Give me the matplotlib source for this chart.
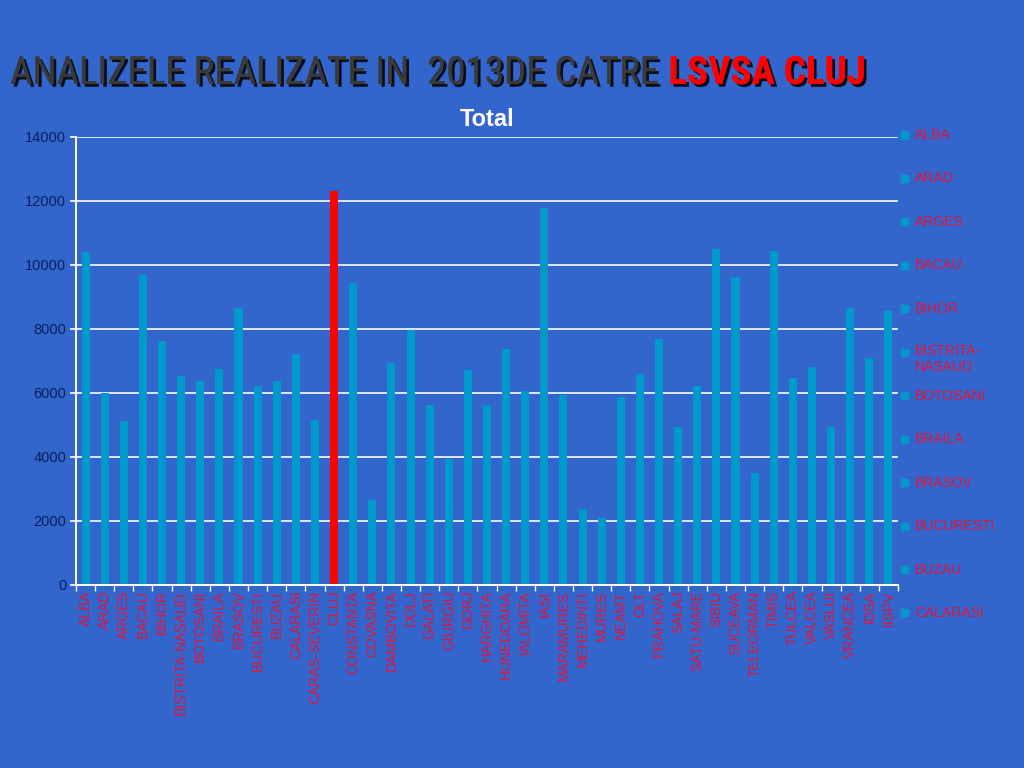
import matplotlib.pyplot as plt
from matplotlib import patheffects as pe
from matplotlib.ticker import MultipleLocator
import numpy as np

judete = ['ALBA', 'ARAD', 'ARGES', 'BACAU', 'BIHOR', 'BISTRITA-NASAUD', 'BOTOSANI',
          'BRAILA', 'BRASOV', 'BUCURESTI', 'BUZAU', 'CALARASI', 'CARAS-SEVERIN', 'CLUJ',
          'CONSTANTA', 'COVASNA', 'DAMBOVITA', 'DOLJ', 'GALATI', 'GIURGIU', 'GORJ',
          'HARGHITA', 'HUNEDOARA', 'IALOMITA', 'IASI', 'MARAMURES', 'MEHEDINTI', 'MURES',
          'NEAMT', 'OLT', 'PRAHOVA', 'SALAJ', 'SATU-MARE', 'SIBIU', 'SUCEAVA', 'TELEORMAN',
          'TIMIS', 'TULCEA', 'VALCEA', 'VASLUI', 'VRANCEA', 'IDSA', 'IISPV']
totaluri = [10400, 6000, 5120, 9690, 7620, 6530, 6370, 6750, 8650, 6220, 6370, 7220,
            5150, 12320, 9440, 2650, 6940, 7970, 5630, 3940, 6720, 5620, 7370, 6070,
            11780, 5940, 2370, 2100, 5880, 6590, 7690, 4930, 6220, 10500, 9620, 3490,
            10440, 6470, 6810, 4930, 8650, 7090, 8560]
# in legenda se vad doar primele 12
legenda = ['ALBA', 'ARAD', 'ARGES', 'BACAU', 'BIHOR', 'BISTRITA-\nNASAUD', 'BOTOSANI',
           'BRAILA', 'BRASOV', 'BUCURESTI', 'BUZAU', 'CALARASI']

FUNDAL = '#3366cc'
CYAN = '#0099cc'
ROSU_TEXT = '#e0143c'
INGUST = ['Roboto Condensed', 'Archivo Narrow', 'DejaVu Sans']

plt.rcParams['font.family'] = ['Liberation Sans', 'DejaVu Sans']

fig = plt.figure(figsize=(10.24, 7.68), dpi=100, facecolor=FUNDAL)
ax = fig.add_axes([76 / 1024, 1 - 585 / 768, 822 / 1024, 448 / 768], facecolor=FUNDAL)

x = np.arange(len(judete))
culori = ['#ff0000' if j == 'CLUJ' else CYAN for j in judete]
ax.bar(x, totaluri, width=0.42, color=culori, zorder=3)

ax.set_ylim(0, 14000)
ax.set_xlim(-0.5, len(judete) - 0.5)
ax.yaxis.set_major_locator(MultipleLocator(2000))
ax.grid(axis='y', color='#dde6f5', linewidth=1.4, zorder=1)

for s in ['top', 'right']:
    ax.spines[s].set_visible(False)
for s in ['left', 'bottom']:
    ax.spines[s].set_color('white')
    ax.spines[s].set_linewidth(1.4)
    ax.spines[s].set_zorder(4)

ax.set_xticks(x)
ax.set_xticklabels(judete, rotation=90, color=ROSU_TEXT, fontsize=10)
ax.tick_params(axis='x', length=0, pad=4)
ax.set_xticks(np.arange(len(judete) + 1) - 0.5, minor=True)
ax.tick_params(axis='x', which='minor', length=4, color='white', width=1)
ax.tick_params(axis='y', length=4, color='white', width=1.2, labelcolor='#0b1d5c',
               labelsize=10.5, pad=3)

ax.set_title('Total', color='white', fontsize=17, fontweight='bold', pad=8)

# legenda desenata manual (intrarile sunt la pas fix)
for i, nume in enumerate(legenda):
    yp = 1 - (135 + i * 43.45) / 768
    fig.patches.append(plt.Rectangle((901 / 1024, yp - 3.5 / 768), 7 / 1024, 7 / 768,
                                     transform=fig.transFigure, color=CYAN))
    if '\n' in nume:
        fig.text(915 / 1024, yp + 8 / 768, nume, color=ROSU_TEXT, fontsize=10,
                 va='top', ha='left', linespacing=1.15)
    else:
        fig.text(915 / 1024, yp, nume, color=ROSU_TEXT, fontsize=10, va='center', ha='left')

umbra = [pe.withSimplePatchShadow(offset=(2, -2), shadow_rgbFace='black', alpha=0.85), pe.Normal()]
t1 = fig.text(10 / 1024, 1 - 84 / 768, 'ANALIZELE REALIZATE IN  2013DE CATRE ',
              color='#3a3a3a', fontsize=28, va='baseline', ha='left',
              family=INGUST, path_effects=umbra)
fig.canvas.draw()
bb = t1.get_window_extent()
fig.text(bb.x1 / 1024, 1 - 84 / 768, 'LSVSA CLUJ', color='#ff0000', fontsize=28,
         fontweight='bold', va='baseline', ha='left', family=INGUST, path_effects=umbra)

fig.savefig('out.png', dpi=100, facecolor=FUNDAL)
